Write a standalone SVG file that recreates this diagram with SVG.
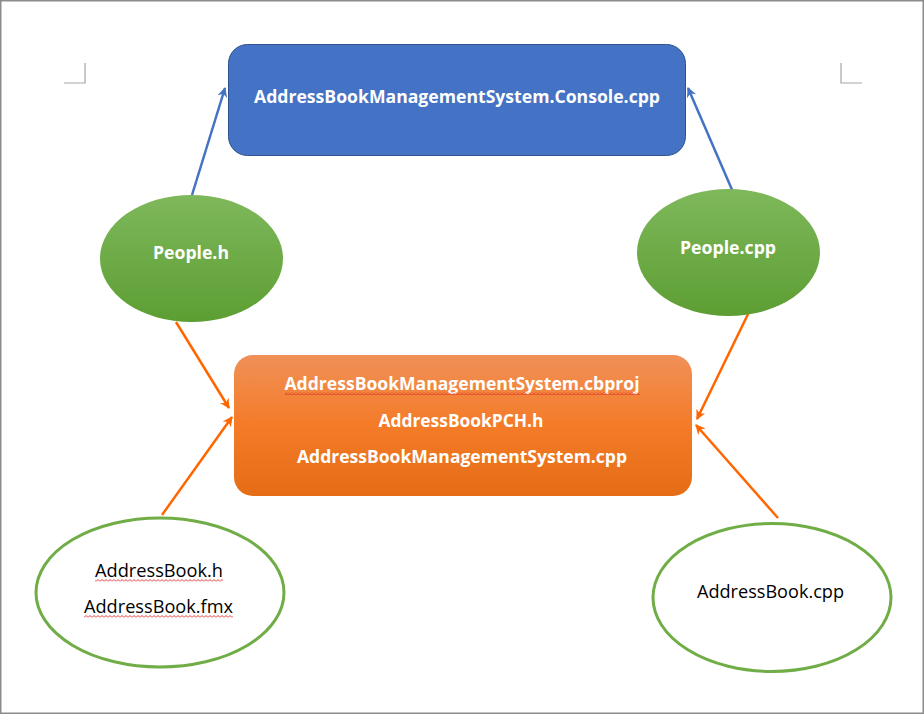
<svg xmlns="http://www.w3.org/2000/svg" width="924" height="714" viewBox="0 0 924 714">
<style>
.bt{font-family:"Open Sans","Liberation Sans",sans-serif;font-weight:bold;fill:#ffffff;text-anchor:middle}
.nt{font-family:"Open Sans","Liberation Sans",sans-serif;fill:#000000;text-anchor:middle}
.crop{stroke:#a6a6a6;stroke-width:1.2;fill:none}
.blue{stroke:#4472C4;stroke-width:2.5;fill:none}
.orng{stroke:#FF6600;stroke-width:2.5;fill:none}
.wavy{stroke:#e02020;stroke-width:1;fill:none}
</style>
<defs>
<linearGradient id="gGreen" x1="0" y1="0" x2="0" y2="1">
<stop offset="0" stop-color="#7EB85B"/>
<stop offset="1" stop-color="#5D9E33"/>
</linearGradient>
<linearGradient id="gOrange" x1="0" y1="0" x2="0" y2="1">
<stop offset="0" stop-color="#F09058"/>
<stop offset="0.5" stop-color="#F47B28"/>
<stop offset="1" stop-color="#E56D15"/>
</linearGradient>
<marker id="ab" viewBox="0 0 10 10" refX="9" refY="5" markerWidth="11" markerHeight="10" markerUnits="userSpaceOnUse" orient="auto">
<path d="M0,0 L10,5 L0,10 L3,5 Z" fill="#4472C4"/>
</marker>
<marker id="ao" viewBox="0 0 10 10" refX="9" refY="5" markerWidth="11" markerHeight="10" markerUnits="userSpaceOnUse" orient="auto">
<path d="M0,0 L10,5 L0,10 L3,5 Z" fill="#FF6600"/>
</marker>
<pattern id="wv" width="4" height="3" patternUnits="userSpaceOnUse">
<path d="M0,2.5 L2,0.5 L4,2.5" stroke="#e02020" stroke-width="0.9" fill="none"/>
</pattern>
</defs>
<rect x="0" y="0" width="924" height="714" fill="#ffffff"/>
<g id="page">
<path d="M0.75,714 V0.75 H923.25 V714" stroke="#8c8c8c" stroke-width="1.5" fill="none"/>
<line x1="0" y1="713.25" x2="924" y2="713.25" stroke="#8c8c8c" stroke-width="1.5"/>
<path class="crop" d="M85,63 V83 H64"/>
<path class="crop" d="M841,63 V83 H862"/>
</g>
<g id="connectors">
<line class="blue" x1="192" y1="195" x2="225" y2="88" marker-end="url(#ab)"/>
<line class="blue" x1="733" y1="192" x2="688" y2="88" marker-end="url(#ab)"/>
<line class="orng" x1="176" y1="322" x2="229" y2="408" marker-end="url(#ao)"/>
<line class="orng" x1="162" y1="515" x2="232" y2="417" marker-end="url(#ao)"/>
<line class="orng" x1="750" y1="310" x2="697" y2="419" marker-end="url(#ao)"/>
<line class="orng" x1="778" y1="518" x2="696" y2="425" marker-end="url(#ao)"/>
</g>
<g id="console">
<rect x="228.5" y="44.5" width="457" height="111" rx="19" fill="#4472C4" stroke="#2F528F" stroke-width="1"/>
<text class="bt" x="457" y="103" font-size="18" textLength="406" lengthAdjust="spacingAndGlyphs">AddressBookManagementSystem.Console.cpp</text>
</g>
<g id="people_h">
<ellipse cx="191.5" cy="258.5" rx="91.5" ry="63.5" fill="url(#gGreen)"/>
<text class="bt" x="191" y="259" font-size="17" textLength="76" lengthAdjust="spacingAndGlyphs">People.h</text>
</g>
<g id="people_cpp">
<ellipse cx="728.5" cy="252.5" rx="91.5" ry="63.5" fill="url(#gGreen)"/>
<text class="bt" x="728" y="254" font-size="17" textLength="96" lengthAdjust="spacingAndGlyphs">People.cpp</text>
</g>
<g id="project">
<rect x="234" y="355" width="458" height="141" rx="19" fill="url(#gOrange)"/>
<text class="bt" x="462" y="390" font-size="17" textLength="355" lengthAdjust="spacingAndGlyphs">AddressBookManagementSystem.cbproj</text>
<rect x="285" y="392" width="355" height="3" fill="url(#wv)"/>
<text class="bt" x="461" y="427" font-size="17" textLength="165" lengthAdjust="spacingAndGlyphs">AddressBookPCH.h</text>
<text class="bt" x="462" y="463" font-size="17" textLength="330" lengthAdjust="spacingAndGlyphs">AddressBookManagementSystem.cpp</text>
</g>
<g id="addressbook_h">
<ellipse cx="160" cy="592.5" rx="124" ry="74.5" fill="#ffffff" stroke="#70AD47" stroke-width="3"/>
<text class="nt" x="159" y="577" font-size="18" textLength="128" lengthAdjust="spacingAndGlyphs">AddressBook.h</text>
<rect x="95" y="579" width="128" height="3" fill="url(#wv)"/>
<text class="nt" x="158.5" y="613" font-size="18" textLength="149" lengthAdjust="spacingAndGlyphs">AddressBook.fmx</text>
<rect x="84" y="615" width="149" height="3" fill="url(#wv)"/>
</g>
<g id="addressbook_cpp">
<ellipse cx="772" cy="597.5" rx="119" ry="74" fill="#ffffff" stroke="#70AD47" stroke-width="3"/>
<text class="nt" x="770.5" y="598" font-size="18" textLength="147" lengthAdjust="spacingAndGlyphs">AddressBook.cpp</text>
</g>
</svg>
